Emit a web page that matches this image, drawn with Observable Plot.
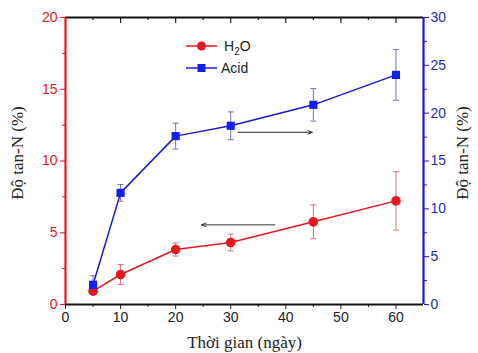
<!DOCTYPE html>
<html><head><meta charset="utf-8">
<script src="https://cdn.jsdelivr.net/npm/d3@7"></script>
<script src="https://cdn.jsdelivr.net/npm/@observablehq/plot@0.6"></script>
<style>
html,body{margin:0;padding:0;background:#fff}
#wrap{position:relative;width:478px;height:353px}
#legend{position:absolute;left:0;top:0;pointer-events:none}
</style></head><body><div id="wrap"></div>
<script>
// ---- data ----
const days = [5, 10, 20, 30, 45, 60];
const h2o = [0.93, 2.09, 3.83, 4.32, 5.76, 7.22];
const h2oErr = [0.1, 0.69, 0.45, 0.58, 1.18, 2.03];
const acid = [2.06, 11.67, 17.6, 18.68, 20.87, 24.0];
const acidErr = [0.95, 0.87, 1.35, 1.45, 1.7, 2.65];
const seriesNames = ["H2O", "Acid"];
const xMajor = [0, 10, 20, 30, 40, 50, 60];
const xMinor = [5, 15, 25, 35, 45, 55];
const xDomain = [0, 65];
const leftMajor = [0, 5, 10, 15, 20];
const leftMinor = [2.5, 7.5, 12.5, 17.5];
const leftDomain = [0, 20];
const rightMajor = [0, 5, 10, 15, 20, 25, 30];
const rightMinor = [2.5, 7.5, 12.5, 17.5, 22.5, 27.5];
const rightDomain = [0, 30];
// annotation arrows: [x from, x to, y (left units)]
const arrowRight = {x1: 31.3, x2: 44.8, y: 12.0};
const arrowLeft = {x1: 38, x2: 24.7, y: 5.55};
const xTitle = "Thời gian (ngày)";
const yTitle = "Độ tan-N (%)";

const RED = "#e8161e", RED_ERR = "#d9707a";
const BLUE = "#1a1ad0", BLUE_DOT = "#1020f0", BLUE_ERR = "#7272b8";
const BLUE_TXT = "#2a2ab8";
const k = leftDomain[1] / rightDomain[1];

const rows = days.map((d, i) => ({
  x: d, h: h2o[i], he: h2oErr[i], a: acid[i] * k, ae: acidErr[i] * k
}));
const cap = 0.55;
const serif = "'Liberation Serif', 'Times New Roman', serif";

const plot = Plot.plot({
  width: 478, height: 353,
  marginTop: 17, marginBottom: 49, marginLeft: 65, marginRight: 55,
  x: {domain: xDomain},
  y: {domain: leftDomain},
  style: {fontFamily: "'Liberation Sans', Arial, sans-serif", fontSize: "14px", background: "white"},
  marks: [
    // error bars H2O
    Plot.ruleX(rows, {x: "x", y1: d => d.h - d.he, y2: d => d.h + d.he, stroke: RED_ERR, strokeWidth: 1}),
    Plot.link(rows, {x1: d => d.x - cap, x2: d => d.x + cap, y1: d => d.h + d.he, y2: d => d.h + d.he, stroke: RED_ERR}),
    Plot.link(rows, {x1: d => d.x - cap, x2: d => d.x + cap, y1: d => d.h - d.he, y2: d => d.h - d.he, stroke: RED_ERR}),
    // error bars Acid
    Plot.ruleX(rows, {x: "x", y1: d => d.a - d.ae, y2: d => d.a + d.ae, stroke: BLUE_ERR, strokeWidth: 1}),
    Plot.link(rows, {x1: d => d.x - cap, x2: d => d.x + cap, y1: d => d.a + d.ae, y2: d => d.a + d.ae, stroke: BLUE_ERR}),
    Plot.link(rows, {x1: d => d.x - cap, x2: d => d.x + cap, y1: d => d.a - d.ae, y2: d => d.a - d.ae, stroke: BLUE_ERR}),
    // lines + markers
    Plot.line(rows, {x: "x", y: "h", stroke: RED, strokeWidth: 1.5}),
    Plot.dot(rows, {x: "x", y: "h", r: 4.8, fill: RED, stroke: "none"}),
    Plot.line(rows, {x: "x", y: "a", stroke: BLUE, strokeWidth: 1.5}),
    Plot.dot(rows, {x: "x", y: "a", symbol: "square", r: 4.6, fill: BLUE_DOT, stroke: "none"}),
    // arrows
    Plot.arrow([arrowRight, arrowLeft], {x1: "x1", x2: "x2", y1: "y", y2: "y", stroke: "#333", strokeWidth: 1, headLength: 7, headAngle: 45}),
    // axes
    Plot.axisX(xMajor, {anchor: "bottom", tickSize: 5, tickPadding: 3, label: null, color: "#222"}),
    Plot.axisX(xMinor, {anchor: "bottom", tickSize: 3, tickFormat: () => "", label: null, color: "#222"}),
    // inward ticks along the top edge
    Plot.tickX(xMajor.slice(1), {x: d => d, insetBottom: 281, stroke: "#222", strokeWidth: 1.2}),
    Plot.tickX(xMinor, {x: d => d, insetBottom: 284, stroke: "#222", strokeWidth: 1.2}),
    Plot.axisY(leftMajor, {anchor: "left", tickSize: 5, tickPadding: 3, label: null, color: RED}),
    Plot.axisY(leftMinor, {anchor: "left", tickSize: 3, tickFormat: () => "", label: null, color: RED}),
    Plot.axisY(rightMajor.map(v => v * k), {anchor: "right", tickSize: 5, tickPadding: 2, label: null, color: BLUE_TXT, stroke: BLUE,
      tickFormat: d => String(Math.round(d / k))}),
    Plot.axisY(rightMinor.map(v => v * k), {anchor: "right", tickSize: 3, tickFormat: () => "", label: null, color: BLUE}),
    // frame lines
    Plot.ruleY([leftDomain[0]], {stroke: "#111", strokeWidth: 2}),
    Plot.ruleY([leftDomain[1]], {stroke: "#111", strokeWidth: 2}),
    Plot.ruleX([xDomain[0]], {stroke: RED, strokeWidth: 2.2}),
    Plot.ruleX([xDomain[1]], {stroke: BLUE, strokeWidth: 2.2}),
    // titles
    Plot.text([xTitle], {frameAnchor: "bottom", textAnchor: "middle", lineAnchor: "middle", dy: 38, fontSize: 17, fontFamily: serif, fill: "#222"}),
    Plot.text([yTitle], {frameAnchor: "left", textAnchor: "middle", lineAnchor: "middle", rotate: -90, dx: -48, dy: -8, fontSize: 17, fontFamily: serif, fill: "#222"}),
    Plot.text([yTitle], {frameAnchor: "right", textAnchor: "middle", lineAnchor: "middle", rotate: -90, dx: 39, dy: -8, fontSize: 17, fontFamily: serif, fill: "#222"})
  ]
});
const wrap = document.getElementById("wrap");
wrap.appendChild(plot);

// legend overlay
const ns = "http://www.w3.org/2000/svg";
const lg = document.createElementNS(ns, "svg");
lg.setAttribute("id", "legend");
lg.setAttribute("width", 478); lg.setAttribute("height", 353);
const items = [
  {name: seriesNames[0], color: RED, sym: "circle", y: 46},
  {name: seriesNames[1], color: BLUE, sym: "square", y: 68}
];
items.forEach(it => {
  const l = document.createElementNS(ns, "line");
  l.setAttribute("x1", 186); l.setAttribute("x2", 217);
  l.setAttribute("y1", it.y); l.setAttribute("y2", it.y);
  l.setAttribute("stroke", it.color); l.setAttribute("stroke-width", 1.5);
  lg.appendChild(l);
  if (it.sym === "circle") {
    const c = document.createElementNS(ns, "circle");
    c.setAttribute("cx", 201.5); c.setAttribute("cy", it.y); c.setAttribute("r", 4.5);
    c.setAttribute("fill", it.color);
    lg.appendChild(c);
  } else {
    const r = document.createElementNS(ns, "rect");
    r.setAttribute("x", 197.5); r.setAttribute("y", it.y - 4); r.setAttribute("width", 8); r.setAttribute("height", 8);
    r.setAttribute("fill", BLUE_DOT);
    lg.appendChild(r);
  }
  const t = document.createElementNS(ns, "text");
  t.setAttribute("x", it.sym === "circle" ? 224 : 221); t.setAttribute("y", it.y + 5);
  t.setAttribute("font-family", "'Liberation Sans', Arial, sans-serif");
  t.setAttribute("font-size", 14); t.setAttribute("fill", "#222");
  if (it.name === "H2O") {
    t.appendChild(document.createTextNode("H"));
    const s = document.createElementNS(ns, "tspan");
    s.setAttribute("font-size", 10); s.setAttribute("dy", 4);
    s.textContent = "2";
    t.appendChild(s);
    const o = document.createElementNS(ns, "tspan");
    o.setAttribute("dy", -4);
    o.textContent = "O";
    t.appendChild(o);
  } else {
    t.textContent = it.name;
  }
  lg.appendChild(t);
});
wrap.appendChild(lg);
</script></body></html>
